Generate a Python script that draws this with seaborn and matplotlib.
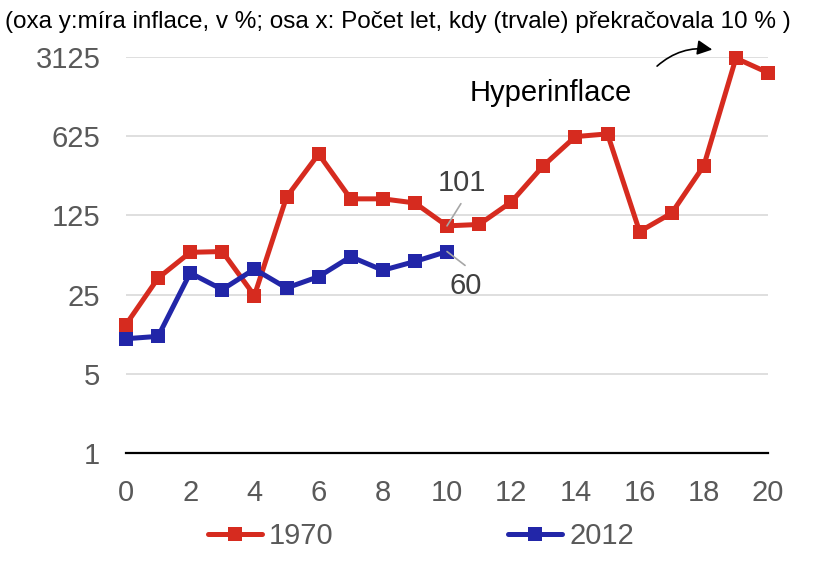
import matplotlib
matplotlib.use("Agg")
import matplotlib.pyplot as plt
import seaborn as sns
import pandas as pd
import numpy as np

years = list(range(0, 21))
infl_1970 = [13.6, 35, 59, 60, 24.5, 181, 435, 175, 175, 161, 101, 104, 164, 343, 620, 655, 90, 131, 343, 3050, 2270]
years_2012 = list(range(0, 11))
infl_2012 = [10.2, 10.7, 38.8, 27.7, 42, 28.6, 36, 54, 41, 49, 60]
series_names = ["1970", "2012"]
y_ticks = [1, 5, 25, 125, 625, 3125]
y_tick_labels = ["1", "5", "25", "125", "625", "3125"]
x_ticks = list(range(0, 21))
title = "(oxa y:míra inflace, v %; osa x: Počet let, kdy (trvale) překračovala 10 % )"

RED = "#D62B1F"
BLUE = "#2226A8"

df = pd.concat([
    pd.DataFrame({"x": years, "y": infl_1970, "serie": series_names[0]}),
    pd.DataFrame({"x": years_2012, "y": infl_2012, "serie": series_names[1]}),
])

sns.set_style("white")
plt.rcParams["font.family"] = ["Liberation Sans", "DejaVu Sans"]

fig = plt.figure(figsize=(8.27, 5.69), dpi=100)
ax = fig.add_axes([126 / 827, 1 - 453 / 569, (768 - 126) / 827, (453 - 57) / 569])

sns.lineplot(data=df, x="x", y="y", hue="serie", palette={"1970": RED, "2012": BLUE},
             style="serie", markers={"1970": "s", "2012": "s"}, dashes=False,
             linewidth=3.6, markersize=10, markeredgewidth=0, ax=ax, legend=False,
             clip_on=False, zorder=3)

ax.set_yscale("log", base=5)
ax.set_ylim(1, 3125)
ax.set_xlim(0, 20)
ax.set_yticks(y_ticks)
ax.set_yticklabels(y_tick_labels)
ax.yaxis.set_minor_locator(matplotlib.ticker.NullLocator())
ax.set_xticks(x_ticks)
ax.set_xticklabels([str(v) if v % 2 == 0 else "" for v in x_ticks])
ax.set_xlabel("")
ax.set_ylabel("")

ax.grid(axis="y", color="#D9D9D9", linewidth=1.2)
ax.grid(axis="x", visible=False)
for s in ["top", "right", "left"]:
    ax.spines[s].set_visible(False)
ax.spines["bottom"].set_color("black")
ax.spines["bottom"].set_linewidth(1.6)
ax.tick_params(axis="x", direction="out", length=7, width=1.4, color="black",
               labelsize=21, labelcolor="#595959", pad=12)
ax.tick_params(axis="y", length=0, labelsize=21, labelcolor="#595959", pad=18.5)

# data labels with leader lines
leader = dict(arrowstyle="-", color="#A6A6A6", lw=1.2, shrinkA=0, shrinkB=0)
ax.annotate("", xy=(years[10], infl_1970[10]), xytext=(10, 16),
            textcoords="offset points", arrowprops=leader, zorder=4)
ax.annotate(str(infl_1970[10]), xy=(years[10], infl_1970[10]), xytext=(11, 31),
            textcoords="offset points", fontsize=21, color="#404040", ha="center", va="center")
ax.annotate("", xy=(years_2012[10], infl_2012[10]), xytext=(13, -10),
            textcoords="offset points", arrowprops=leader, zorder=4)
ax.annotate(str(infl_2012[10]), xy=(years_2012[10], infl_2012[10]), xytext=(13.5, -24.5),
            textcoords="offset points", fontsize=21, color="#404040", ha="center", va="center")

ax.text(15.77, 3125 * 5 ** ((57 - 93) / 79.3), "Hyperinflace", fontsize=21,
        color="black", ha="right", va="center")
ax.annotate("", xy=(18.35, 3125 * 5 ** ((57 - 50) / 79.3)), xytext=(16.48, 3125 * 5 ** ((57 - 68) / 79.3)),
            arrowprops=dict(arrowstyle="-|>,head_length=0.9,head_width=0.45", color="black", lw=1.2,
                            connectionstyle="arc3,rad=-0.25"), annotation_clip=False)

fig.text(398 / 827, 1 - 22 / 569, title, fontsize=17.5, color="black", ha="center", va="center")

handles = [
    matplotlib.lines.Line2D([], [], color=RED, lw=3.6, marker="s", markersize=10, markeredgewidth=0),
    matplotlib.lines.Line2D([], [], color=BLUE, lw=3.6, marker="s", markersize=10, markeredgewidth=0),
]
leg = fig.legend(handles, series_names, loc="center", bbox_to_anchor=(421 / 827, 1 - 536 / 569),
                 ncol=2, frameon=False, fontsize=21, handlelength=1.85, handletextpad=0.25,
                 columnspacing=6.0, labelcolor="#595959")

fig.savefig("out.png", dpi=100)
